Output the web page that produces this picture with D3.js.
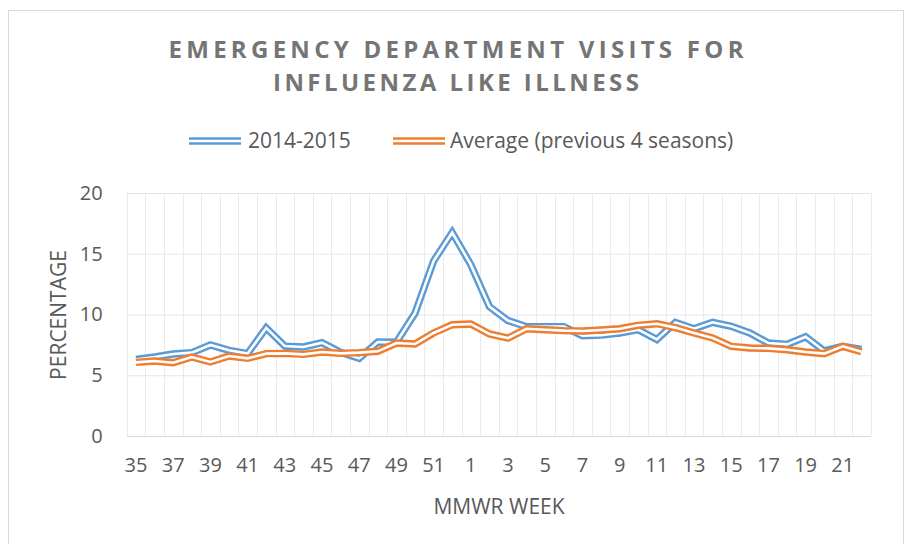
<!DOCTYPE html>
<html><head><meta charset="utf-8">
<script src="https://cdn.jsdelivr.net/npm/d3@7/dist/d3.min.js"></script>
<style>body{margin:0;background:#fff}svg{display:block}text{font-family:"Open Sans",sans-serif}</style>
</head><body>
<svg id="chart" width="906" height="544"></svg>
<script>
// ---- data ----
const weeks = ["35","36","37","38","39","40","41","42","43","44","45","46","47","48","49","50","51","52",
  "1","2","3","4","5","6","7","8","9","10","11","12","13","14","15","16","17","18","19","20","21","22"];
const tickLabels = ["35","37","39","41","43","45","47","49","51","1","3","5","7","9","11","13","15","17","19","21"];
const yTicks = [0,5,10,15,20];
const season2014 = [6.3,6.5,6.75,6.86,7.49,7.05,6.78,8.9,7.4,7.33,7.68,6.89,6.39,7.74,7.71,10.1,14.4,16.75,14.1,10.65,
  9.5,9.0,9.0,9.0,8.25,8.3,8.48,8.75,7.95,9.35,8.83,9.36,9.03,8.48,7.65,7.54,8.17,7.0,7.38,7.13];
const average4 = [6.06,6.17,6.03,6.5,6.09,6.58,6.39,6.78,6.8,6.72,6.91,6.8,6.86,6.97,7.65,7.57,8.48,9.16,9.22,8.4,
  8.06,8.83,8.75,8.67,8.64,8.72,8.83,9.11,9.24,8.92,8.48,8.07,7.38,7.24,7.21,7.1,6.91,6.78,7.38,6.94];
const seriesNames = ["2014-2015","Average (previous 4 seasons)"];
const seriesColors = ["#5b9bd5","#ed7d31"];
const titleLines = ["EMERGENCY DEPARTMENT VISITS FOR","INFLUENZA LIKE ILLNESS"];

// ---- layout ----
const plot = {left:126.7, right:870.7, top:193, bottom:436};
const svg = d3.select("#chart");
const textColor = "#595959";

svg.append("rect").attr("x",8.5).attr("y",10.5).attr("width",895).attr("height",560)
  .attr("fill","#fff").attr("stroke","#d9d9d9").attr("stroke-width",1);

const x = d3.scaleBand().domain(weeks).range([plot.left, plot.right]).paddingInner(0).paddingOuter(0);
const y = d3.scaleLinear().domain([0,20]).range([plot.bottom, plot.top]);

// vertical gridlines at category boundaries
const bounds = weeks.map(w => x(w)).concat([plot.right]);
svg.append("g").selectAll("line").data(bounds).join("line")
  .attr("x1", d => Math.round(d)+0.5).attr("x2", d => Math.round(d)+0.5)
  .attr("y1", plot.top).attr("y2", plot.bottom)
  .attr("stroke","#ebebeb").attr("stroke-width",1);

// horizontal gridlines + y labels
const yAxis = svg.append("g").attr("transform",`translate(${plot.left},0)`)
  .call(d3.axisLeft(y).tickValues(yTicks).tickSize(-(plot.right-plot.left)).tickPadding(24));
yAxis.select(".domain").remove();
yAxis.selectAll(".tick line").attr("stroke", d => d===0 ? "#d9d9d9" : "#e6e6e6");
yAxis.selectAll(".tick text").attr("fill",textColor).style("font-size","20px").style("font-family","'Open Sans',sans-serif");

// x labels
const xAxis = svg.append("g").attr("transform",`translate(0,${plot.bottom})`)
  .call(d3.axisBottom(x).tickValues(tickLabels).tickSize(0).tickPadding(22));
xAxis.select(".domain").remove();
xAxis.selectAll(".tick text").attr("fill",textColor).style("font-size","20px").style("font-family","'Open Sans',sans-serif");

// axis titles
svg.append("text").attr("x",499).attr("y",506).attr("text-anchor","middle").attr("dominant-baseline","central")
  .attr("fill",textColor).style("font-size","21px").text("MMWR WEEK");
svg.append("text").attr("transform","translate(58,315) rotate(-90)").attr("text-anchor","middle")
  .attr("dominant-baseline","central").attr("fill",textColor).style("font-size","21px").text("PERCENTAGE");

// title
svg.append("g").selectAll("text").data(titleLines).join("text")
  .attr("x",456).attr("y",(d,i)=>48+i*33).attr("text-anchor","middle").attr("dominant-baseline","central")
  .attr("fill","#757575").style("font-size","24px").style("font-weight","bold")
  .attr("textLength",(d,i)=> i===0 ? 575 : 366).attr("lengthAdjust","spacing")
  .text(d=>d);

// lines (double-line style)
const line = d3.line().x((d,i)=> x(weeks[i]) + x.bandwidth()/2).y(d => y(d));
[season2014, average4].forEach((vals,k) => {
  const g = svg.append("g");
  g.append("path").attr("d",line(vals)).attr("fill","none").attr("stroke",seriesColors[k])
    .attr("stroke-width",7.4).attr("stroke-linejoin","miter");
  g.append("path").attr("d",line(vals)).attr("fill","none").attr("stroke","#fff")
    .attr("stroke-width",2.6).attr("stroke-linejoin","miter");
});

// legend
const legendItems = [{sx:189, tx:248},{sx:393, tx:450}];
const lg = svg.append("g");
legendItems.forEach((it,k) => {
  lg.append("line").attr("x1",it.sx).attr("x2",it.sx+52).attr("y1",141).attr("y2",141)
    .attr("stroke",seriesColors[k]).attr("stroke-width",7.4);
  lg.append("line").attr("x1",it.sx).attr("x2",it.sx+52).attr("y1",141).attr("y2",141)
    .attr("stroke","#fff").attr("stroke-width",2.6);
  lg.append("text").attr("x",it.tx).attr("y",140).attr("dominant-baseline","central")
    .attr("fill",textColor).style("font-size","21px").text(seriesNames[k]);
});
</script>
</body></html>
